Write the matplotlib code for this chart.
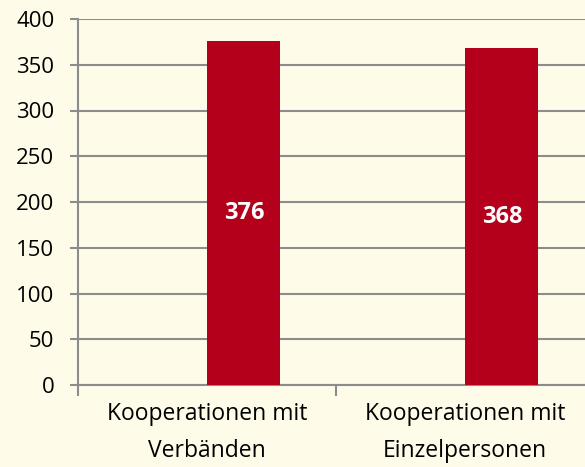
import matplotlib.pyplot as plt
import numpy as np

categories = ['Kooperationen mit\nVerbänden', 'Kooperationen mit\nEinzelpersonen']
values = [376, 368]
yticks = [0, 50, 100, 150, 200, 250, 300, 350, 400]

bg = '#fffbe9'
bar_color = '#b5001b'
grid_color = '#8c8c8c'

plt.rcParams['font.family'] = ['Open Sans', 'DejaVu Sans']

fig = plt.figure(figsize=(5.85, 4.67), dpi=100, facecolor=bg)
# axes runs past the right edge of the figure, like the original
ax = fig.add_axes([78 / 585, 82 / 467, 516 / 585, 366 / 467])
ax.set_facecolor(bg)

x = np.arange(len(categories))
offset = 0.143
bars = ax.bar(x + offset, values, width=0.283, color=bar_color, zorder=3)

for xi, v in zip(x, values):
    ax.text(xi + offset, v / 2, str(v), ha='center', va='center',
            color='white', fontsize=17, fontweight='bold', zorder=4)

ax.set_ylim(0, 400)
ax.set_yticks(yticks)
ax.set_xlim(-0.5, 1.5)
ax.set_xticks([-0.5, 0.5, 1.5])
ax.set_xticklabels([])
ax.set_xticks(x, minor=True)
ax.set_xticklabels(categories, minor=True, fontsize=16.5, linespacing=1.75)

ax.yaxis.grid(True, color=grid_color, linewidth=1.5, zorder=0)
ax.set_axisbelow(True)

for s in ['top', 'right']:
    ax.spines[s].set_visible(False)
for s in ['left', 'bottom']:
    ax.spines[s].set_color(grid_color)
    ax.spines[s].set_linewidth(1.5)

ax.tick_params(axis='y', length=6, width=1.5, color=grid_color, labelsize=16, pad=11)
ax.tick_params(axis='x', which='major', length=8, width=1.5, color=grid_color)
ax.tick_params(axis='x', which='minor', length=0, pad=12)

fig.savefig('out.png', dpi=100, facecolor=bg)
